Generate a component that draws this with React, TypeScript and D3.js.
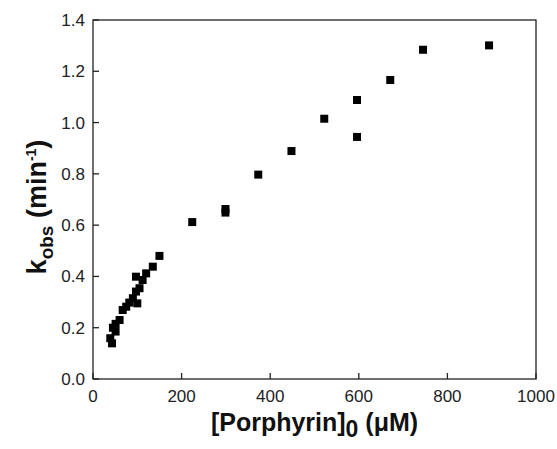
import React from "react";
import * as d3 from "d3";

const porphyrin = [
  39, 43, 45, 51, 51, 60, 67, 75, 82, 90, 97, 100, 105, 112, 97, 120, 135, 150,
  224, 299, 299, 373, 448, 522, 596, 596, 671, 745, 894,
];
const kobs = [
  0.159, 0.139, 0.2, 0.185, 0.215, 0.23, 0.269, 0.282, 0.298, 0.315, 0.341,
  0.295, 0.354, 0.386, 0.399, 0.412, 0.438, 0.48, 0.612, 0.663, 0.649, 0.797,
  0.889, 1.015, 1.088, 0.944, 1.166, 1.284, 1.301,
];
const xTicks = [0, 200, 400, 600, 800, 1000];
const yTicks = [0, 0.2, 0.4, 0.6, 0.8, 1.0, 1.2, 1.4];

const W = 557;
const H = 449;
const m = { left: 93, right: 21, top: 20, bottom: 70 };
const font = "'Liberation Sans', Arial, sans-serif";

export default function App() {
  const x = d3.scaleLinear().domain([0, 1000]).range([m.left, W - m.right]);
  const y = d3.scaleLinear().domain([0, 1.4]).range([H - m.bottom, m.top]);
  const sz = 8;

  return (
    <svg
      width={W}
      height={H}
      style={{ position: "absolute", left: 0, top: 0, background: "#fff" }}
      fontFamily={font}
    >
      <rect
        x={x(0)}
        y={y(1.4)}
        width={x(1000) - x(0)}
        height={y(0) - y(1.4)}
        fill="none"
        stroke="#222"
        strokeWidth={1.3}
      />
      {xTicks.map((t) => (
        <g key={"x" + t}>
          <line x1={x(t)} x2={x(t)} y1={y(0)} y2={y(0) - 6} stroke="#222" strokeWidth={1.3} />
          <text x={x(t)} y={y(0) + 23} textAnchor="middle" fontSize={17} fill="#222">
            {t}
          </text>
        </g>
      ))}
      {yTicks.map((t) => (
        <g key={"y" + t}>
          <line x1={x(0)} x2={x(0) + 6} y1={y(t)} y2={y(t)} stroke="#222" strokeWidth={1.3} />
          <text x={x(0) - 8} y={y(t) + 6} textAnchor="end" fontSize={17} fill="#222">
            {d3.format(".1f")(t)}
          </text>
        </g>
      ))}
      {porphyrin.map((p, i) => (
        <rect
          key={i}
          x={x(p) - sz / 2}
          y={y(kobs[i]) - sz / 2}
          width={sz}
          height={sz}
          fill="#000"
        />
      ))}
      <text
        x={(x(0) + x(1000)) / 2}
        y={431}
        textAnchor="middle"
        fontSize={25}
        fontWeight="bold"
        fill="#111"
      >
        [Porphyrin]
        <tspan dy={6} fontSize={23}>0</tspan>
        <tspan dy={-6}> (μM)</tspan>
      </text>
      <text
        transform={`translate(46, 207) rotate(-90)`}
        textAnchor="middle"
        fontSize={27}
        fontWeight="bold"
        fill="#111"
      >
        k
        <tspan dy={7} fontSize={19}>obs</tspan>
        <tspan dy={-7}> (min</tspan>
        <tspan dy={-10} fontSize={14}>-1</tspan>
        <tspan dy={10}>)</tspan>
      </text>
    </svg>
  );
}
